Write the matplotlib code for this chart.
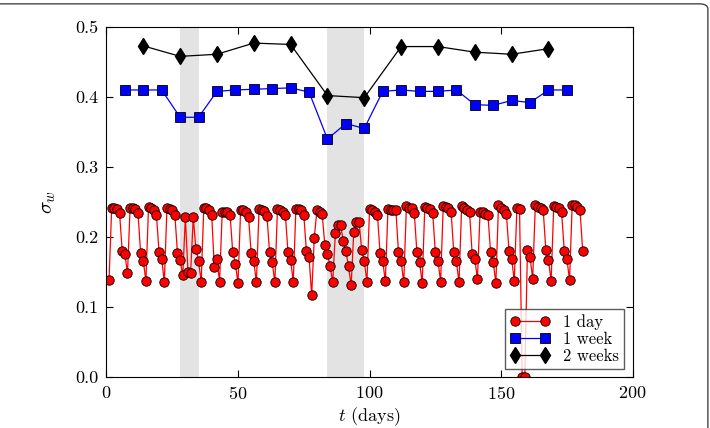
import matplotlib
matplotlib.use("Agg")
import matplotlib.pyplot as plt
from matplotlib.patches import FancyBboxPatch
import numpy as np

plt.rcParams['font.family'] = 'serif'
plt.rcParams['font.serif'] = ['cmr10', 'DejaVu Serif']
plt.rcParams['mathtext.fontset'] = 'cm'
plt.rcParams['axes.formatter.use_mathtext'] = True

# daily values, days 1..181
day_vals = [
    0.139, 0.242, 0.241, 0.240, 0.234, 0.180, 0.176, 0.148,
    0.242, 0.241, 0.240, 0.234, 0.177, 0.166, 0.137,
    0.243, 0.241, 0.239, 0.232, 0.178, 0.168, 0.136,
    0.241, 0.240, 0.239, 0.232, 0.177, 0.167, 0.145,
    0.228, 0.150, 0.149, 0.228, 0.183, 0.166, 0.135,
    0.242, 0.241, 0.238, 0.232, 0.157, 0.168, 0.136,
    0.235, 0.235, 0.235, 0.232, 0.178, 0.162, 0.134,
    0.239, 0.238, 0.235, 0.229, 0.177, 0.165, 0.135,
    0.240, 0.238, 0.237, 0.230, 0.178, 0.164, 0.135,
    0.240, 0.238, 0.236, 0.232, 0.178, 0.167, 0.136,
    0.240, 0.240, 0.238, 0.232, 0.180, 0.171, 0.117,
    0.199, 0.238, 0.236, 0.233, 0.188, 0.176, 0.158, 0.136,
    0.205, 0.217, 0.217, 0.194, 0.180, 0.158, 0.131,
    0.207, 0.222, 0.222, 0.182, 0.165, 0.135,
    0.240, 0.238, 0.236, 0.231, 0.177, 0.165, 0.137,
    0.240, 0.238, 0.238, 0.238, 0.178, 0.165, 0.135,
    0.244, 0.242, 0.241, 0.234, 0.178, 0.164, 0.134,
    0.243, 0.241, 0.240, 0.234, 0.178, 0.166, 0.136,
    0.244, 0.243, 0.241, 0.236, 0.178, 0.165, 0.135,
    0.244, 0.241, 0.239, 0.235, 0.176, 0.168, 0.140,
    0.235, 0.235, 0.233, 0.231, 0.178, 0.164, 0.134,
    0.245, 0.242, 0.239, 0.233, 0.180, 0.169, 0.137,
    0.242, 0.240, 0.0, 0.0, 0.181, 0.171, 0.140,
    0.246, 0.243, 0.241, 0.238, 0.181, 0.167, 0.137,
    0.244, 0.243, 0.241, 0.235, 0.180, 0.169, 0.138,
    0.245, 0.245, 0.243, 0.238, 0.180,
]
days = np.arange(1, len(day_vals) + 1)

week_days = np.arange(7, 176, 7)
week_vals = [0.410, 0.410, 0.410, 0.371, 0.371, 0.408, 0.410, 0.411, 0.412,
             0.413, 0.407, 0.340, 0.362, 0.355, 0.408, 0.410, 0.408, 0.408,
             0.410, 0.389, 0.388, 0.395, 0.392, 0.410, 0.410]

two_week_days = np.arange(14, 169, 14)
two_week_vals = [0.473, 0.458, 0.461, 0.477, 0.475, 0.402, 0.399, 0.472,
                 0.472, 0.464, 0.461, 0.469]

holidays = [(28, 35), (84, 98)]

fig = plt.figure(figsize=(7.1, 4.28), dpi=100)
ax = fig.add_axes([0.1499, 0.1192, 0.7412, 0.8178])

for a, b in holidays:
    ax.axvspan(a, b, color='#e3e3e3', lw=0, zorder=0)

ax.plot(days, day_vals, '-o', color='red', mfc='red', mec='black', mew=0.6,
        ms=6.8, lw=0.9, label='1 day')
ax.plot(week_days, week_vals, '-s', color='blue', mfc='blue', mec='black',
        mew=0.6, ms=6.5, lw=0.9, label='1 week')
ax.plot(two_week_days, two_week_vals, '-d', color='black', mfc='black',
        mec='black', ms=8.5, lw=0.9, label='2 weeks')

ax.set_xlim(0, 200)
ax.set_ylim(0, 0.5)
ax.set_xticks([0, 50, 100, 150, 200])
ax.set_yticks([0.0, 0.1, 0.2, 0.3, 0.4, 0.5])
ax.set_yticklabels(['0.0', '0.1', '0.2', '0.3', '0.4', '0.5'])
ax.tick_params(direction='in', top=True, right=True, length=5, labelsize=13,
               pad=6)
ax.set_xlabel('$t$ (days)', fontsize=13, labelpad=2)
ax.set_ylabel(r'$\sigma_w$', fontsize=15, labelpad=12)

leg = ax.legend(loc='lower right', numpoints=2, fontsize=12, fancybox=False,
                borderpad=0.3, labelspacing=0.1, handlelength=2.4,
                handletextpad=0.8, borderaxespad=0.5)
leg.get_frame().set_edgecolor('#333333')
leg.get_frame().set_linewidth(1.0)

box = FancyBboxPatch((-0.02, -0.05), 1.017, 1.041, transform=fig.transFigure,
                     boxstyle='round,pad=0,rounding_size=0.012',
                     fc='none', ec='#444444', lw=1.0, clip_on=False)
fig.patches.append(box)

fig.savefig('out.png', dpi=100)
